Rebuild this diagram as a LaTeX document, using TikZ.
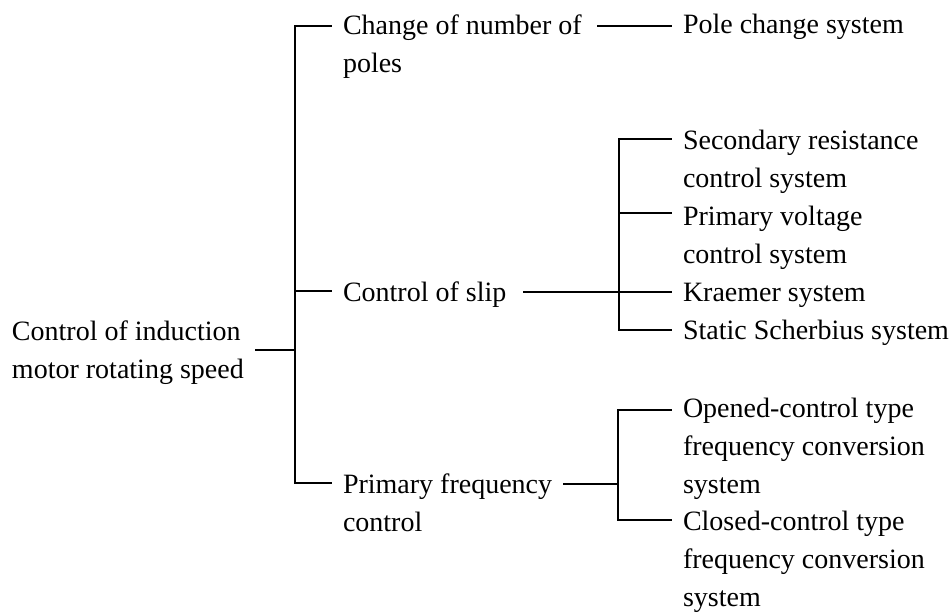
\documentclass[tikz,border=0pt]{standalone}
\usepackage{fontspec}
\setmainfont{Liberation Serif}
\begin{document}
\begin{tikzpicture}[x=1pt,y=-1pt,
  lbl/.style={anchor=base west, align=left, inner sep=0pt, outer xsep=12pt,
    font=\fontsize{28}{38}\selectfont},
  conn/.style={line width=1.7pt, line cap=rect}]
\useasboundingbox (0,0) rectangle (952,614);
% labels (position = west end of the last line's baseline, minus outer sep)
\node[lbl] (root) at (0,378) {Control of induction\\motor rotating speed};
\node[lbl] (A) at (331,72) {Change of number of\\poles};
\node[lbl] (B) at (331,301) {Control of slip};
\node[lbl] (C) at (331,531) {Primary frequency\\control};
\node[lbl] (A1) at (671,33) {Pole change system};
\node[lbl] (B1) at (671,187) {Secondary resistance\\control system};
\node[lbl] (B2) at (671,263) {Primary voltage\\control system};
\node[lbl] (B3) at (671,301) {Kraemer system};
\node[lbl] (B4) at (671,339) {Static Scherbius system};
\node[lbl] (C1) at (671,493) {Opened-control type\\frequency conversion\\system};
\node[lbl] (C2) at (671,606) {Closed-control type\\frequency conversion\\system};
% joints
\coordinate (j0) at (295,350);
\coordinate (jA) at (295,26);
\coordinate (jB) at (295,291);
\coordinate (jC) at (295,483);
\coordinate (kA) at (598,26);
\coordinate (sB) at (619,292);
\coordinate (s1) at (619,139);
\coordinate (s2) at (619,213);
\coordinate (s4) at (619,330);
\coordinate (sC) at (618,484);
\coordinate (f1) at (618,410);
\coordinate (f2) at (618,520);
% main tree
\draw[conn] (root.east |- j0) -- (j0);
\draw[conn] (jA) -- (jC);
\draw[conn] (jA) -- (A.west |- jA);
\draw[conn] (jB) -- (B.west |- jB);
\draw[conn] (jC) -- (C.west |- jC);
% pole change
\draw[conn] (kA) -- (A1.west |- kA);
% slip
\draw[conn] ([xshift=6pt]B.east |- sB) -- (sB);
\draw[conn] (s1) -- (s4);
\draw[conn] (s1) -- (B1.west |- s1);
\draw[conn] (s2) -- (B2.west |- s2);
\draw[conn] (sB) -- (B3.west |- sB);
\draw[conn] (s4) -- (B4.west |- s4);
% frequency
\draw[conn] (C.east |- sC) -- (sC);
\draw[conn] (f1) -- (f2);
\draw[conn] (f1) -- (C1.west |- f1);
\draw[conn] (f2) -- (C2.west |- f2);
\end{tikzpicture}
\end{document}
